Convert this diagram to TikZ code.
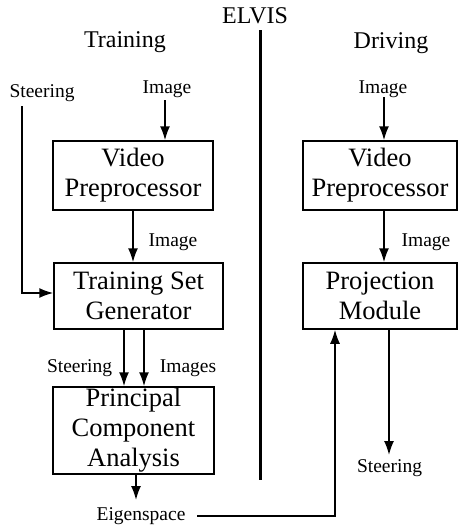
\documentclass[tikz,border=0pt]{standalone}
\usepackage{fontspec}
\setmainfont{Liberation Serif}
\usetikzlibrary{arrows.meta}

\begin{document}
\begin{tikzpicture}[x=1pt,y=-1pt,
  blk/.style={draw, line width=1.5pt, inner sep=0pt, align=center,
              font=\fontsize{26.5}{30}\selectfont},
  lbl/.style={inner sep=0pt, anchor=base, font=\fontsize{19.5}{22}\selectfont},
  ttl/.style={inner sep=0pt, anchor=base, font=\fontsize{24}{27}\selectfont},
  arr/.style={-{Latex[length=14pt,width=10pt]}, line width=1.6pt}]
\useasboundingbox (0,0) rectangle (458,525);

% headings and the divider
\node[ttl] (elvis) at (255,23) {ELVIS};
\node[ttl] (train) at (125,47) {Training};
\node[ttl] (drive) at (391,48) {Driving};
\draw[line width=3pt] (260,30) -- (260,480);

% training column
\node[blk, minimum width=160pt, minimum height=69pt] (vpL) at (133,175.5) {Video\\Preprocessor};
\node[blk, minimum width=169pt, minimum height=66pt] (tsg) at (138.5,296) {Training Set\\Generator};
\node[blk, minimum width=161pt, minimum height=87pt] (pca) at (133.5,430.5) {Principal\\Component\\Analysis};

\node[lbl] (steerIn) at (42,97) {Steering};
\node[lbl] (imgInL) at (167,93) {Image};
\node[lbl] (imgMidL) at (173,246) {Image};
\node[lbl] (steerMid) at (79.5,372) {Steering};
\node[lbl] (imgsMid) at (188,372) {Images};
\node[lbl] (eigen) at (141,520) {Eigenspace};

\coordinate (steerTop) at (22,106);
\coordinate (imgTopL) at (165,100);
\coordinate (eigTip) at (136,500);
\coordinate (eigOut) at (197,516);

\draw[arr] (imgTopL) -- (imgTopL |- vpL.north);
\draw[arr] (vpL.south) -- (vpL.south |- tsg.north);
\draw[arr] (steerTop) |- ([yshift=3pt]tsg.west);
\draw[arr] ([xshift=-14.5pt]tsg.south) -- ([xshift=-14.5pt]tsg.south |- pca.north);
\draw[arr] ([xshift=5.5pt]tsg.south) -- ([xshift=5.5pt]tsg.south |- pca.north);
\draw[arr] (eigTip |- pca.south) -- (eigTip);

% driving column
\node[blk, minimum width=154pt, minimum height=69pt] (vpR) at (380,175.5) {Video\\Preprocessor};
\node[blk, minimum width=154pt, minimum height=66pt] (pm) at (380,296) {Projection\\Module};

\node[lbl] (imgInR) at (383,93) {Image};
\node[lbl] (imgMidR) at (426,246) {Image};
\node[lbl] (steerOut) at (389.5,472) {Steering};

\coordinate (imgTopR) at (384,97);
\coordinate (steerTip) at (389,455);

\draw[arr] (imgTopR) -- (imgTopR |- vpR.north);
\draw[arr] ([xshift=4pt]vpR.south) -- ([xshift=4pt]vpR.south |- pm.north);
\draw[arr] (steerTip |- pm.south) -- (steerTip);

% eigenspace handed over to the projection module
\draw[arr] (eigOut) -| ([xshift=-45pt]pm.south);
\end{tikzpicture}
\end{document}
